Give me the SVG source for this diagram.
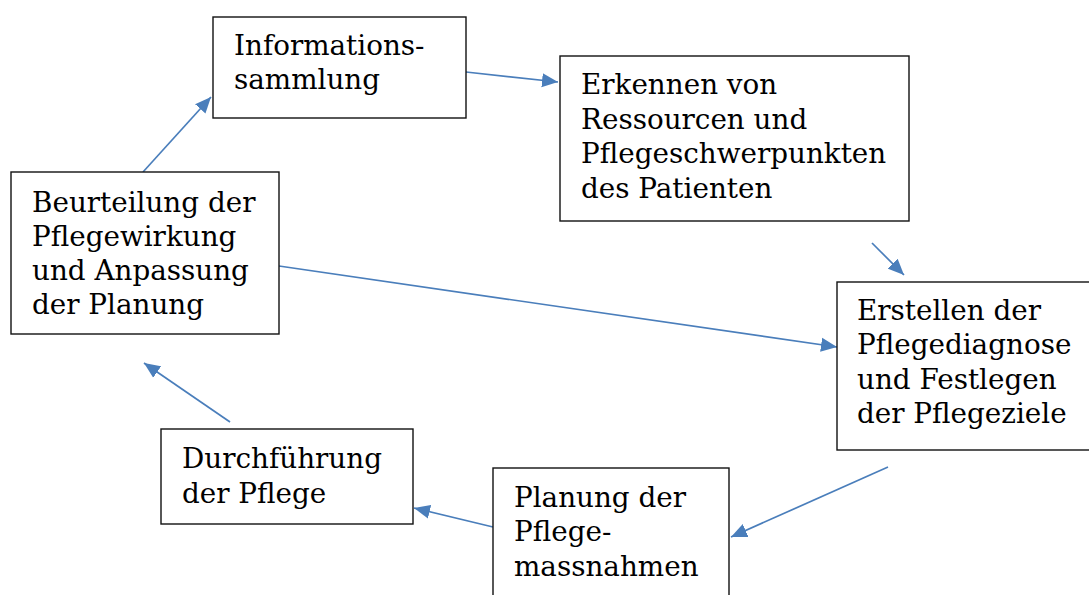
<svg xmlns="http://www.w3.org/2000/svg" width="1089" height="595" viewBox="0 0 1089 595">
<style>
.box{fill:#fff;stroke:#111;stroke-width:1.4}
.t{font-family:"DejaVu Serif","Liberation Serif",serif;font-size:27.8px;fill:#000}
.c{fill:none;stroke:#4a7ebb;stroke-width:1.7}
</style>
<defs>
<marker id="ah" markerUnits="userSpaceOnUse" markerWidth="17" markerHeight="15" refX="16" refY="7" orient="auto" viewBox="0 0 17 14">
<path d="M0,0 L16,7 L0,14 z" fill="#4a7ebb"/>
</marker>
</defs>
<rect width="1089" height="595" fill="#fff"/>
<g id="connectors">
<line class="c" x1="143" y1="172" x2="211" y2="97" marker-end="url(#ah)"/>
<line class="c" x1="466" y1="72" x2="558" y2="82" marker-end="url(#ah)"/>
<line class="c" x1="872" y1="243" x2="904" y2="275" marker-end="url(#ah)"/>
<line class="c" x1="279" y1="266" x2="837" y2="347" marker-end="url(#ah)"/>
<line class="c" x1="888" y1="467" x2="731" y2="537" marker-end="url(#ah)"/>
<line class="c" x1="493" y1="527" x2="414" y2="508" marker-end="url(#ah)"/>
<line class="c" x1="230" y1="422" x2="144" y2="363" marker-end="url(#ah)"/>
</g>
<g id="info">
<rect class="box" x="213" y="17" width="253" height="101"/>
<text class="t" x="234" y="55">Informations-</text>
<text class="t" x="234" y="89">sammlung</text>
</g>
<g id="erkennen">
<rect class="box" x="560" y="56" width="349" height="165"/>
<text class="t" x="581" y="94">Erkennen von</text>
<text class="t" x="581" y="129">Ressourcen und</text>
<text class="t" x="581" y="163">Pflegeschwerpunkten</text>
<text class="t" x="581" y="198">des Patienten</text>
</g>
<g id="erstellen">
<rect class="box" x="837" y="282" width="270" height="168"/>
<text class="t" x="857" y="320">Erstellen der</text>
<text class="t" x="857" y="354">Pflegediagnose</text>
<text class="t" x="857" y="389">und Festlegen</text>
<text class="t" x="857" y="423">der Pflegeziele</text>
</g>
<g id="planung">
<rect class="box" x="493" y="468" width="236" height="140"/>
<text class="t" x="514" y="507">Planung der</text>
<text class="t" x="514" y="541">Pflege-</text>
<text class="t" x="514" y="576">massnahmen</text>
</g>
<g id="durchfuehrung">
<rect class="box" x="161" y="429" width="252" height="95"/>
<text class="t" x="182" y="468">Durchführung</text>
<text class="t" x="182" y="503">der Pflege</text>
</g>
<g id="beurteilung">
<rect class="box" x="11" y="172" width="268" height="162"/>
<text class="t" x="32" y="212">Beurteilung der</text>
<text class="t" x="32" y="246">Pflegewirkung</text>
<text class="t" x="32" y="280">und Anpassung</text>
<text class="t" x="32" y="314">der Planung</text>
</g>
</svg>
